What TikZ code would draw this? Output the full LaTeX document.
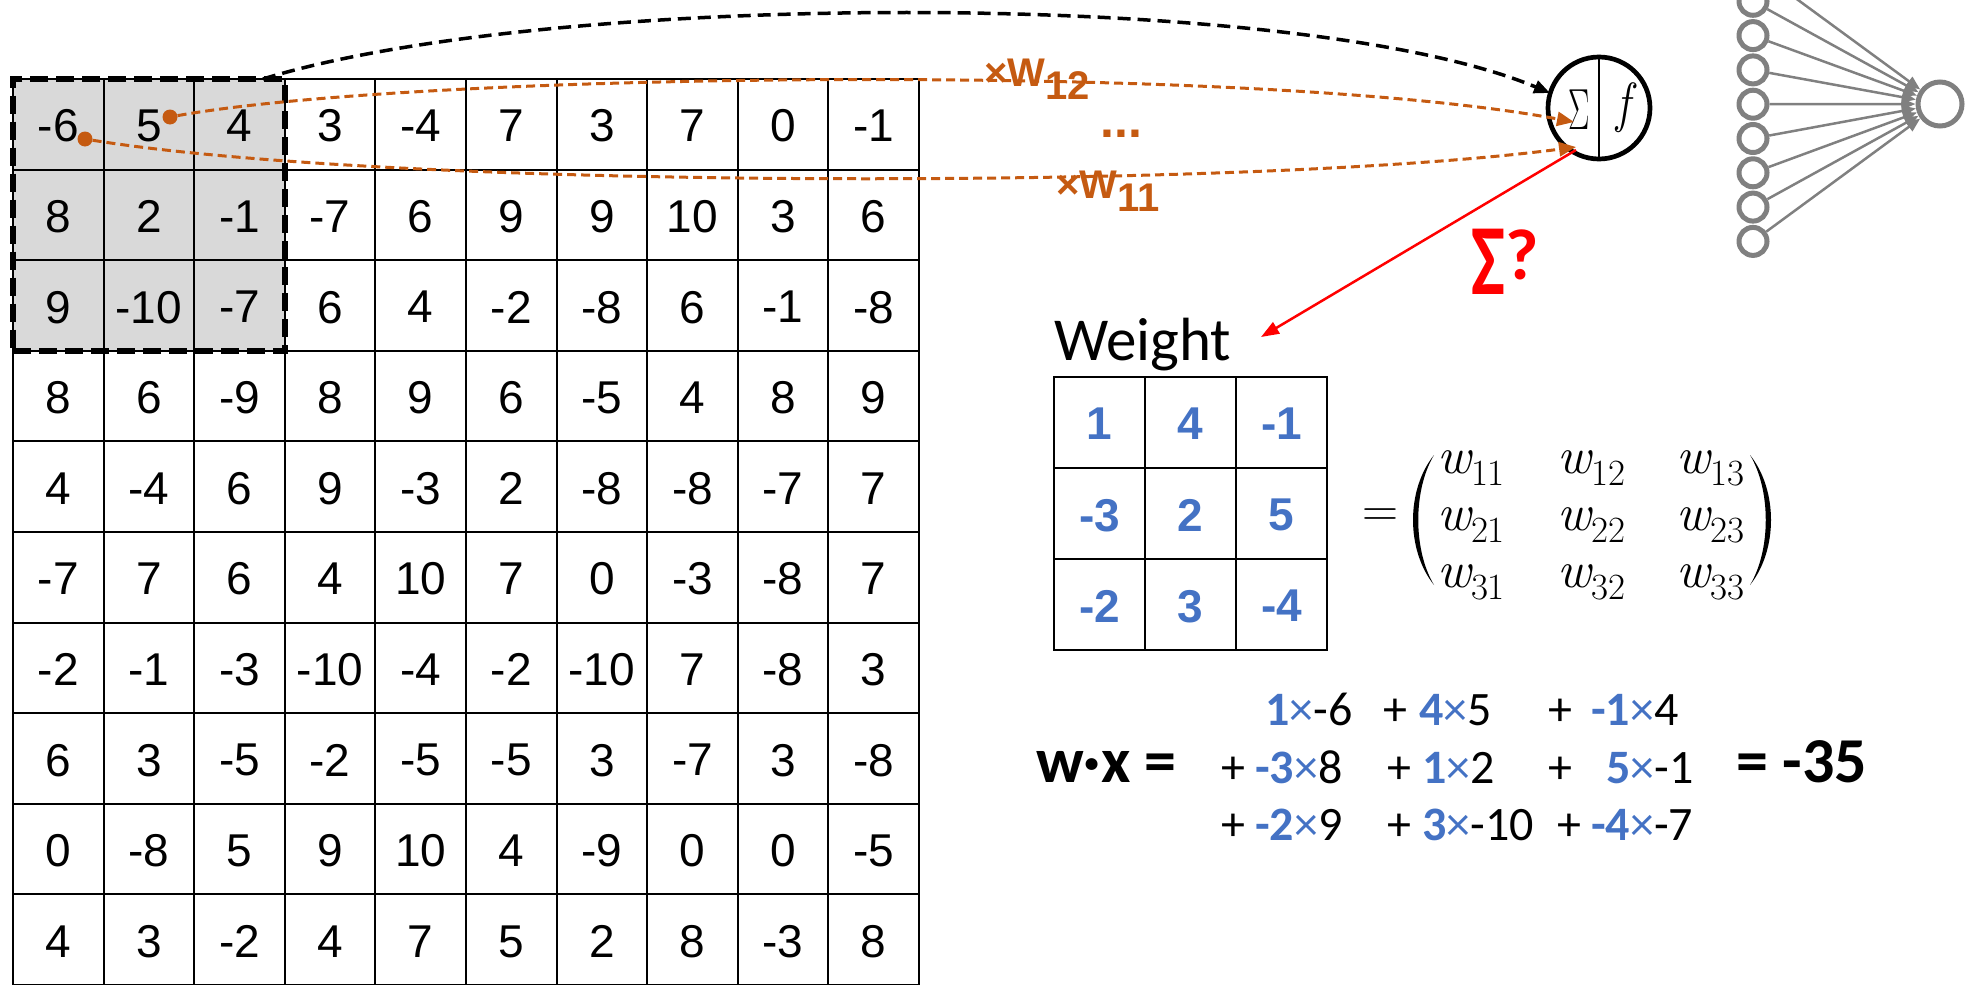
\documentclass[tikz,border=0pt]{standalone}
\usepackage{graphicx}
\usepackage[no-math]{fontspec}
\setmainfont{Liberation Sans}
\newfontfamily\calfont{Carlito}
\newfontfamily\lmr{Latin Modern Roman}
\usetikzlibrary{arrows.meta,calc}
\definecolor{wblue}{HTML}{4472C4}
\definecolor{worange}{HTML}{C55A11}
\definecolor{cellgray}{HTML}{D9D9D9}
\definecolor{netgray}{HTML}{808080}
\newcommand\wb[1]{\textcolor{wblue}{\bfseries #1}}
\newcommand\wx{\textcolor{wblue}{×}}
\newcommand\wsub[1]{{\itshape w}\raisebox{-12pt}{\fontsize{37}{37}\selectfont #1}}
\begin{document}
\begin{tikzpicture}[x=1pt,y=-1pt,
  gridline/.style={line width=2pt,black,line cap=rect},
  cellnum/.style={inner sep=0pt,text depth=0pt,font=\fontsize{46}{46}\selectfont},
  wnum/.style={inner sep=0pt,text depth=0pt,font=\fontsize{46}{46}\selectfont\bfseries,text=wblue},
  orangedash/.style={worange,line width=3pt,dash pattern=on 9pt off 5pt},
  otip/.style={-{Triangle[length=17pt,width=14pt]}},
  orangedot/.style={circle,fill=worange,inner sep=0pt,minimum size=15pt},
  inneuron/.style={circle,draw=netgray,line width=5pt,minimum size=28pt,inner sep=0pt},
  netline/.style={netgray,line width=2.5pt,-{Triangle[length=14pt,width=11pt]}},
  exprtxt/.style={anchor=base west,inner sep=0pt,font=\calfont\fontsize{48}{48}\selectfont},
  olabel/.style={anchor=base west,inner sep=0pt,text=worange,font=\bfseries\fontsize{40}{40}\selectfont},
  mentry/.style={anchor=base west,inner sep=0pt,font=\lmr\fontsize{52}{52}\selectfont},
]
\useasboundingbox (0,0) rectangle (1968,985);
\clip (0,0) rectangle (1968,985);
\def\s{90.6}
% input grid
\fill[cellgray] (13,79) rectangle (284.8,350.8);
\foreach \i in {0,...,10} {
  \draw[gridline] (13+\i*\s,79) -- (13+\i*\s,1000);
  \draw[gridline] (13,79+\i*\s) -- (919,79+\i*\s);
}
\foreach \row [count=\r] in {{-6,5,4,3,-4,7,3,7,0,-1},{8,2,-1,-7,6,9,9,10,3,6},{9,-10,-7,6,4,-2,-8,6,-1,-8},{8,6,-9,8,9,6,-5,4,8,9},{4,-4,6,9,-3,2,-8,-8,-7,7},{-7,7,6,4,10,7,0,-3,-8,7},{-2,-1,-3,-10,-4,-2,-10,7,-8,3},{6,3,-5,-2,-5,-5,3,-7,3,-8},{0,-8,5,9,10,4,-9,0,0,-5},{4,3,-2,4,7,5,2,8,-3,8}} {
  \foreach \v [count=\c] in \row {
    \node[cellnum] (c\r-\c) at (13+\c*\s-0.5*\s, 79+\r*\s-0.5*\s+1.5) {\v};
  }
}
\node[draw=black,line width=5.5pt,dash pattern=on 18pt off 8pt,minimum width=271.8pt,minimum height=271.8pt,inner sep=0pt] (win) at (148.9,214.9) {};
\node[orangedot] (d6) at (85,139) {};
\node[orangedot] (d5) at (170,117) {};
% neuron
\node[circle,draw,line width=4.7pt,minimum size=102pt,inner sep=0pt] (neu) at (1599,108) {};
\draw[line width=1.2pt] (neu.north) -- (neu.south);
\node[inner sep=0pt] (sig) at (1579,110) {\lmr\fontsize{40}{40}\selectfont\scalebox{0.8}[1.45]{Σ}};
\node[inner sep=0pt] (ff) at (1623,108) {\lmr\itshape\fontsize{46}{46}\selectfont\scalebox{1}[1.2]{f}};
\coordinate (bStart) at (263,79);
\coordinate (bEnd) at (1550,93);
\coordinate (oEnd1) at (1574,122);
\coordinate (oEnd2) at (1576,147);
\coordinate (rStart) at (1576,150);
\coordinate (wArrow) at (1261,337);
\draw[line width=3.5pt,dash pattern=on 13pt off 7pt,-{Triangle[length=16pt,width=13pt]}] (bStart) .. controls (550,-10) and (1300,-12) .. (bEnd);
\draw[orangedash,otip] (d5) .. controls (420,72) and (1250,62) .. (oEnd1);
\draw[orangedash,otip] (d6) .. controls (400,190) and (1250,190) .. (oEnd2);
\node[olabel] (w12) at (984,86) {×W\raisebox{-13pt}{12}};
\node[olabel] (w11) at (1056,198) {×W\raisebox{-13pt}{11}};
\node[olabel,font=\bfseries\fontsize{50}{50}\selectfont] (odots) at (1100,137) {...};
% red
\draw[red,line width=2.5pt,-{Triangle[length=18pt,width=13pt]}] (rStart) -- (wArrow);
\node[anchor=base west,inner sep=0pt,text=red,font=\calfont\bfseries\fontsize{72}{72}\selectfont] (sq) at (1471,279) {\raisebox{-15pt}{\scalebox{1}[1.4]{Σ}}?};
% weight
\node[anchor=base west,inner sep=0pt,font=\calfont\fontsize{61}{61}\selectfont] (wlabel) at (1054,360) {Weight};
\foreach \i in {0,...,3} {
  \draw[line width=2.5pt,line cap=rect] (1054+\i*91,377) -- (1054+\i*91,650);
  \draw[line width=2.5pt,line cap=rect] (1054,377+\i*91) -- (1327,377+\i*91);
}
\foreach \row [count=\r] in {{1,4,-1},{-3,2,5},{-2,3,-4}} {
  \foreach \v [count=\c] in \row {
    \node[wnum] (w\r-\c) at (1054+\c*91-45.5, 377+\r*91-45.5+1.5) {\v};
  }
}
% matrix
\node[inner sep=0pt,font=\lmr\fontsize{50}{50}\selectfont] (eqs) at (1380,518) {=};
\foreach \r/\yb in {1/473,2/530,3/587} {
  \foreach \c/\xb in {1/1437,2/1557,3/1676} {
    \node[mentry] (m\r\c) at (\xb,\yb) {\wsub{\r\c}};
  }
}
\fill (1434,455) .. controls (1406,490) and (1406,550) .. (1434,585) .. controls (1413,550) and (1413,490) .. (1434,455) -- cycle;
\fill (1750,455) .. controls (1778,490) and (1778,550) .. (1750,585) .. controls (1771,550) and (1771,490) .. (1750,455) -- cycle;
% expression
\node[exprtxt,font=\calfont\bfseries\fontsize{64}{64}\selectfont] (wdx) at (1036,782) {w·x =};
\node[exprtxt,font=\calfont\bfseries\fontsize{64}{64}\selectfont] (res) at (1736,782) {= -35};
\node[exprtxt] (e1) at (1265,725) {\wb{1}\wx-6};
\node[exprtxt] (e2) at (1383,725) {+};
\node[exprtxt] (e3) at (1419,725) {\wb{4}\wx5};
\node[exprtxt] (e4) at (1548,725) {+};
\node[exprtxt] (e5) at (1591,725) {\wb{-1}\wx4};
\node[exprtxt] (e6) at (1221,783) {+};
\node[exprtxt] (e7) at (1255,783) {\wb{-3}\wx8};
\node[exprtxt] (e8) at (1387,783) {+};
\node[exprtxt] (e9) at (1422,783) {\wb{1}\wx2};
\node[exprtxt] (e10) at (1548,783) {+};
\node[exprtxt] (e11) at (1606,783) {\wb{5}\wx-1};
\node[exprtxt] (e12) at (1221,840) {+};
\node[exprtxt] (e13) at (1255,840) {\wb{-2}\wx9};
\node[exprtxt] (e14) at (1387,840) {+};
\node[exprtxt] (e15) at (1422,840) {\wb{3}\wx-10};
\node[exprtxt] (e16) at (1557,840) {+};
\node[exprtxt] (e17) at (1591,840) {\wb{-4}\wx-7};
% network
\foreach \k in {0,...,8} {
  \node[inneuron] (ni\k) at (1753,-33+\k*34.3) {};
}
\node[circle,draw=netgray,line width=5pt,minimum size=44pt,inner sep=0pt] (outn) at (1940,104) {};
\foreach \k in {0,...,8} {
  \draw[netline] (ni\k) -- (outn);
}
\end{tikzpicture}
\end{document}
